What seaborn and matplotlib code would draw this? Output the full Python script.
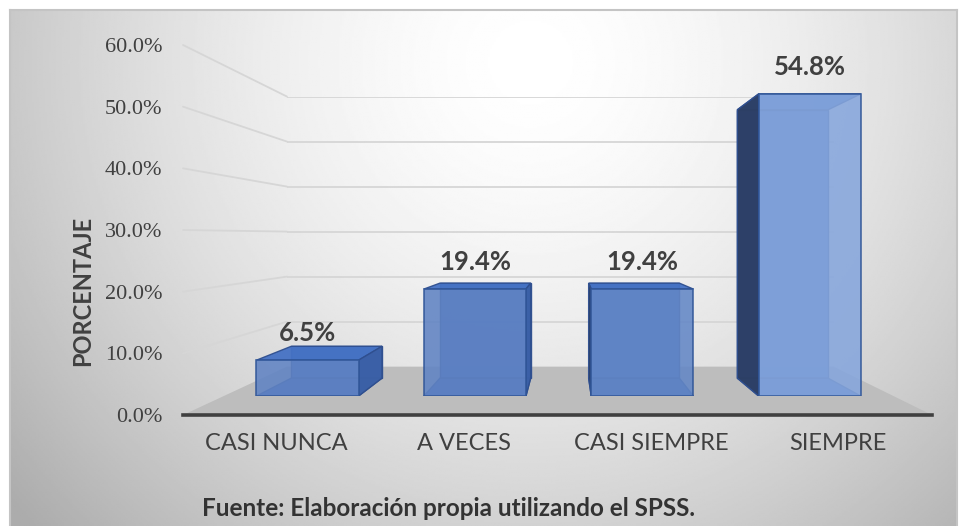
import numpy as np
import pandas as pd
import seaborn as sns
import matplotlib.pyplot as plt
from matplotlib.patches import Polygon, ConnectionPatch

categorias = ["CASI NUNCA", "A VECES", "CASI SIEMPRE", "SIEMPRE"]
porcentajes = [6.5, 19.4, 19.4, 54.8]
ticks_y = [0, 10, 20, 30, 40, 50, 60]
etiquetas_y = ["0.0%", "10.0%", "20.0%", "30.0%", "40.0%", "50.0%", "60.0%"]
titulo_y = "PORCENTAJE"
fuente = "Fuente: Elaboración propia utilizando el SPSS."

colores_frente = ["#4f7fd3", "#4f7fd3", "#5383d6", "#78a2ea"]

W, H = 960, 526
VX, VY = 0.514, 0.484      # punto de fuga (fraccion de ejes)
S_BARRA, S_FONDO, S_PARED = 0.894, 0.794, 0.73


def pos_proyectada(ax, s):
    p = ax.get_position()
    l = VX * (1 - s)
    r = VX + s * (1 - VX)
    b = VY * (1 - s)
    t = VY + s * (1 - VY)
    return [p.x0 + l * p.width, p.y0 + b * p.height,
            (r - l) * p.width, (t - b) * p.height]


def limpiar(ax):
    ax.set_xlim(-0.5, 3.5)
    ax.set_ylim(0, 60)
    ax.patch.set_alpha(0)
    for sp in ax.spines.values():
        sp.set_visible(False)
    ax.set_xticks([])
    ax.set_yticks([])
    ax.set_xlabel("")
    ax.set_ylabel("")


def main():
    sns.set_theme(style="white")
    plt.rcParams["font.family"] = ["Lato", "DejaVu Sans"]

    fig = plt.figure(figsize=(W / 100, H / 100), dpi=100)

    # fondo con degradado
    bg = fig.add_axes([10 / W, 0, 947 / W, 516 / H], zorder=0)
    yy, xx = np.mgrid[0:1:300j, 0:1:500j]
    r = np.sqrt(((xx - 0.55) / 0.6) ** 2 + ((yy - 0.1) / 1.1) ** 2)
    grad = 255 - 62 * np.clip(r, 0, 1.2) ** 1.6
    bg.imshow(grad, cmap="gray", vmin=0, vmax=255, aspect="auto",
              extent=[0, 1, 0, 1], origin="upper")
    bg.set_xticks([])
    bg.set_yticks([])
    for sp in bg.spines.values():
        sp.set_color("#c4c4c4")
        sp.set_linewidth(1.5)
    bg.spines["bottom"].set_visible(False)

    # plano frontal (eje y, categorias)
    ax = fig.add_axes([183 / W, (H - 415) / H, 749 / W, 370 / H], zorder=4)
    ax.set_xlim(-0.5, 3.5)
    ax.set_ylim(0, 60)
    ax.patch.set_alpha(0)
    for sp in ["top", "right", "left"]:
        ax.spines[sp].set_visible(False)
    ax.spines["bottom"].set_color("#404040")
    ax.spines["bottom"].set_linewidth(2.6)
    ax.set_yticks(ticks_y)
    ax.set_yticklabels(etiquetas_y, family="Liberation Serif", fontsize=16,
                       color="#404040")
    ax.set_xticks(range(len(categorias)))
    ax.set_xticklabels(categorias, fontsize=17, color="#404040")
    ax.tick_params(axis="y", length=0, pad=15)
    ax.tick_params(axis="x", length=0, pad=13)
    ax.set_ylabel(titulo_y, fontsize=17, color="#404040", fontweight="bold")
    ax.yaxis.set_label_coords(-0.118, 0.335)

    # pared del fondo con lineas de division
    ax_pared = fig.add_axes(pos_proyectada(ax, S_PARED), zorder=1)
    limpiar(ax_pared)
    for v in ticks_y[1:]:
        ax_pared.axhline(v, color="#d6d6d6", lw=1.3)
        con = ConnectionPatch(xyA=(-0.5, v), coordsA=ax.transData,
                              xyB=(-0.5, v), coordsB=ax_pared.transData,
                              color="#d6d6d6", lw=1.3)
        con.set_zorder(1.2)
        fig.add_artist(con)

    # suelo
    inv = fig.transFigure.inverted()
    pts = np.vstack([ax.transAxes.transform([(0, 0), (1, 0)]),
                     ax_pared.transAxes.transform([(1, 0), (0, 0)])])
    suelo = Polygon(inv.transform(pts), closed=True, transform=fig.transFigure,
                    facecolor="#bdbdbd", edgecolor="none", zorder=1.5)
    fig.add_artist(suelo)

    # barras (cara frontal con seaborn)
    ax_bar = fig.add_axes(pos_proyectada(ax, S_BARRA), zorder=2)
    df = pd.DataFrame({"categoria": categorias, "porcentaje": porcentajes})
    sns.barplot(data=df, x="categoria", y="porcentaje", hue="categoria",
                order=categorias, hue_order=categorias, palette=colores_frente,
                width=0.61, edgecolor="#2f5597", linewidth=1.2, alpha=0.88,
                legend=False, ax=ax_bar, zorder=5)
    limpiar(ax_bar)

    k = S_FONDO / S_BARRA
    vx, vy = -0.5 + 4 * VX, 60 * VY
    for patch in ax_bar.patches:
        x0, w, h = patch.get_x(), patch.get_width(), patch.get_height()
        f = np.array([(x0, 0), (x0 + w, 0), (x0 + w, h), (x0, h)])
        b = np.array([vx, vy]) + k * (f - np.array([vx, vy]))
        der = x0 + w / 2 < vx
        caras = [
            (b, "#3f6cc0", 1),
            ([f[0], f[1], b[1], b[0]], "#3d66b4", 2),
            ([f[3], f[2], b[2], b[3]], "#4572c4", 3),
        ]
        if der:
            caras.append(([f[1], f[2], b[2], b[1]], "#3b60a6", 4))
        else:
            caras.append(([f[0], f[3], b[3], b[0]], "#2c3e63", 4))
        for pts_c, col, z in caras:
            ax_bar.add_patch(Polygon(pts_c, closed=True, facecolor=col,
                                     edgecolor="#2f4f8f", lw=1.0, alpha=0.95,
                                     zorder=z))
        ax_bar.annotate(f"{h:.1f}%", xy=(x0 + w / 2, h), xytext=(0, 19.5),
                        textcoords="offset points", ha="center", va="center",
                        fontsize=18.5, fontweight="bold", color="#404040",
                        zorder=10, annotation_clip=False)

    fig.text(202 / W, 1 - 508 / H, fuente, ha="left", va="center",
             fontsize=17.5, fontweight="bold", color="#333333")

    fig.savefig("out.png", dpi=100, facecolor="white")


if __name__ == "__main__":
    main()
